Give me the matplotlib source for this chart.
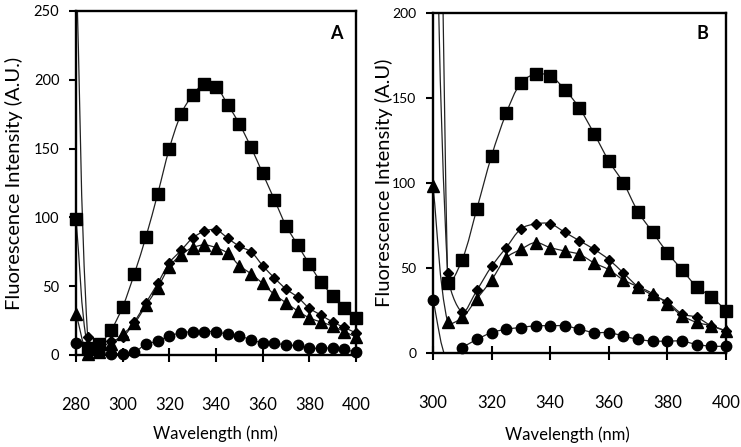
import numpy as np
import matplotlib
matplotlib.use("Agg")
import matplotlib.pyplot as plt
from matplotlib.path import Path
from matplotlib.patches import PathPatch

plt.rcParams['font.family'] = ['Lato', 'DejaVu Sans']

# ---------------- data ----------------
wl_a = [280, 285, 290, 295, 300, 305, 310, 315, 320, 325, 330, 335, 340,
        345, 350, 355, 360, 365, 370, 375, 380, 385, 390, 395, 400]
a_square = [99, 5, 8, 18, 35, 59, 86, 117, 150, 175, 189, 197, 195,
            182, 168, 151, 132, 113, 94, 80, 66, 53, 43, 34, 27]
a_diamond = [290, 13, 5, 10, 13, 24, 38, 52, 67, 76, 85, 90, 91,
             85, 79, 75, 65, 56, 48, 42, 34, 29, 24, 20, 16]
a_triangle = [30, 1, 2, 8, 15, 23, 36, 49, 64, 73, 78, 80, 78,
              74, 65, 59, 52, 44, 38, 32, 27, 24, 21, 17, 13]
a_circle = [9, 4, 2, 1, 1, 2, 8, 10, 14, 16, 17, 17, 17,
            15, 14, 11, 9, 9, 7, 7, 5, 5, 5, 4, 2]

wl_b = [300, 305, 310, 315, 320, 325, 330, 335, 340, 345, 350,
        355, 360, 365, 370, 375, 380, 385, 390, 395, 400]
b_square = [900, 41, 55, 85, 116, 141, 159, 164, 163, 155, 144,
            129, 113, 100, 83, 71, 59, 49, 39, 33, 25]
b_diamond = [350, 47, 24, 37, 51, 62, 73, 76, 76, 71, 66,
             61, 55, 47, 39, 34, 30, 23, 21, 16, 13]
b_triangle = [98, 18, 21, 32, 43, 56, 61, 65, 62, 60, 58,
              53, 49, 43, 39, 35, 29, 22, 18, 16, 13]
b_circle = [31, -5, 3, 8, 12, 14, 15, 16, 16, 16, 14,
            12, 12, 10, 8, 7, 7, 7, 5, 4, 4]

xticks_a = [280, 300, 320, 340, 360, 380, 400]
yticks_a = [0, 50, 100, 150, 200, 250]
xticks_b = [300, 320, 340, 360, 380, 400]
yticks_b = [0, 50, 100, 150, 200]

# ---------------- helpers ----------------
fig = plt.figure(figsize=(7.41, 4.47), dpi=100)


def smooth_line(ax, x, y, color='#222222', lw=0.9):
    """Excel-like smoothed line through the data points."""
    x = np.asarray(x, float)
    y = np.asarray(y, float)
    x0, x1 = ax.get_xlim()
    y0, y1 = ax.get_ylim()
    bb = ax.get_position()
    W = bb.width * fig.get_figwidth() * fig.dpi
    H = bb.height * fig.get_figheight() * fig.dpi
    sx = W / (x1 - x0)
    sy = H / (y1 - y0)
    P = np.column_stack([x * sx, y * sy])
    n = len(P)
    f = 1.0 / 3.0
    verts = [P[0]]
    codes = [Path.MOVETO]
    for i in range(n - 1):
        prev = P[i - 1] if i > 0 else P[i]
        nxt = P[i + 2] if i + 2 < n else P[i + 1]
        T1 = P[i + 1] - prev
        d1 = np.hypot(*(P[i] - prev))
        d2 = np.hypot(*(P[i + 1] - P[i]))
        c1 = P[i] + T1 * f * d2 / (d1 + d2)
        T2 = nxt - P[i]
        e1 = d2
        e2 = np.hypot(*(nxt - P[i + 1]))
        c2 = P[i + 1] - T2 * f * e1 / (e1 + e2)
        verts += [c1, c2, P[i + 1]]
        codes += [Path.CURVE4] * 3
    V = np.array(verts)
    V[:, 0] /= sx
    V[:, 1] /= sy
    patch = PathPatch(Path(V, codes), facecolor='none', edgecolor=color,
                      lw=lw, transform=ax.transData, zorder=2)
    ax.add_patch(patch)


def draw_series(ax, x, y, marker, ms):
    smooth_line(ax, x, y)
    x = np.asarray(x, float)
    y = np.asarray(y, float)
    lo, hi = ax.get_ylim()
    m = (y >= lo) & (y <= hi)
    ax.plot(x[m], y[m], linestyle='none', marker=marker, ms=ms,
            color='black', mec='black', clip_on=False, zorder=3)


def style_axes(ax, xt, yt, xts, yts):
    for s in ax.spines.values():
        s.set_linewidth(1.7)
        s.set_color('black')
    ax.set_xticks(xt)
    ax.set_yticks(yt)
    ax.tick_params(axis='x', direction='inout', length=10, width=1.5,
                   pad=25, labelsize=xts)
    ax.tick_params(axis='y', direction='out', length=5, width=1.5,
                   pad=7, labelsize=yts)


# ---------------- panel A ----------------
axA = fig.add_axes([76 / 741, 1 - 355 / 447, 280 / 741, 344 / 447])
axA.set_xlim(280, 400)
axA.set_ylim(0, 250)
style_axes(axA, xticks_a, yticks_a, 12, 10.5)
draw_series(axA, wl_a, a_square, 's', 8)
draw_series(axA, wl_a, a_diamond, 'D', 5.5)
draw_series(axA, wl_a, a_triangle, '^', 8)
draw_series(axA, wl_a, a_circle, 'o', 7.5)
axA.set_xlabel('Wavelength (nm)', fontsize=12)
axA.set_ylabel('Fluorescence Intensity (A.U.)', fontsize=14.5)
axA.xaxis.set_label_coords(0.496, -0.205)
axA.yaxis.set_label_coords(-0.19, 0.5)
axA.text(0.93, 0.935, 'A', transform=axA.transAxes, fontsize=13,
         fontweight='bold', ha='center', va='center')

# ---------------- panel B ----------------
axB = fig.add_axes([433 / 741, 1 - 353 / 447, 293 / 741, 340 / 447])
axB.set_xlim(300, 400)
axB.set_ylim(0, 200)
style_axes(axB, xticks_b, yticks_b, 12, 10)
draw_series(axB, wl_b, b_square, 's', 8)
draw_series(axB, wl_b, b_diamond, 'D', 5.5)
draw_series(axB, wl_b, b_triangle, '^', 8)
draw_series(axB, wl_b, b_circle, 'o', 7.5)
axB.set_xlabel('Wavelength (nm)', fontsize=12)
axB.set_ylabel('Fluorescence Intensity (A.U)', fontsize=14.5)
axB.xaxis.set_label_coords(0.457, -0.215)
axB.yaxis.set_label_coords(-0.135, 0.5)
axB.text(0.92, 0.94, 'B', transform=axB.transAxes, fontsize=13,
         fontweight='bold', ha='center', va='center')

fig.savefig('out.png', dpi=100)
